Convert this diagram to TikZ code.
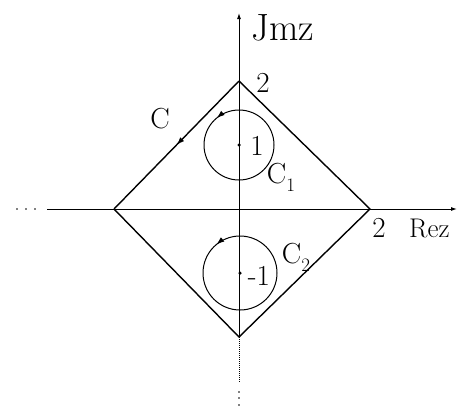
\documentclass[tikz,border=0pt]{standalone}
\usepackage{fontspec}
\usetikzlibrary{arrows.meta,decorations.markings}
\newcommand{\mysub}[1]{\raisebox{-0.28em}{\fontsize{19}{19}\selectfont #1}}
\begin{document}
\begin{tikzpicture}[x=1pt,y=-1pt,
  axis/.style={line width=1pt},
  edge/.style={line width=1.4pt},
  circ/.style={line width=1pt},
  lab/.style={inner sep=0pt,font=\fontsize{29}{29}\selectfont},
  dotmark/.style={circle,fill=black,inner sep=0pt,minimum size=1.6pt},
  midarrow/.style={postaction={decorate},decoration={markings,mark=at position #1 with {\arrow{Latex[length=8pt,width=5.5pt]}}}}]
\useasboundingbox (0,0) rectangle (457,407);
% key points
\coordinate (O) at (239,209);
\coordinate (T) at (239,81);
\coordinate (L) at (114,209);
\coordinate (R) at (370,209);
\coordinate (B) at (239,337);
\coordinate (yTop) at (239,13);
\coordinate (yBot) at (239,383);
\coordinate (xLeft) at (47,209);
\coordinate (xRight) at (457,209);
\coordinate (z1) at (239,145);
\coordinate (z2) at (240,273);
% axes
\draw[axis,-{Latex[length=6pt,width=4pt]}] (B) -- (yTop);
\draw[axis,densely dotted] (B) -- (yBot);
\foreach \y in {392,398,405} \node[dotmark] at (239,\y) {};
\draw[axis,-{Latex[length=6pt,width=4pt]}] (xLeft) -- (xRight);
\foreach \x in {17,26,35} \node[dotmark] at (\x,209) {};
% contour C
\draw[edge,midarrow=0.5] (T) -- (L);
\draw[edge] (L) -- (B) -- (R) -- (T);
% small circles (counterclockwise as seen)
\draw[circ,midarrow=0.36] (z1) ++(35,0) arc[start angle=0,end angle=-360,radius=35];
\draw[circ,midarrow=0.36] (z2) ++(37,0) arc[start angle=0,end angle=-360,radius=37];
\node[dotmark,minimum size=3.5pt] (p1) at (z1) {};
\node[dotmark,minimum size=3.5pt] (p2) at (z2) {};
% labels
\node[lab,anchor=west,font=\fontsize{38}{38}\selectfont] (im) at (251,28) {Jmz};
\node[lab] (two1) at (263,83) {2};
\node[lab] (cl) at (160,119) {C};
\node[lab] (one) at (257,146) {1};
\node[lab] (c1) at (281,177) {C\mysub{1}};
\node[lab] (two2) at (379,228) {2};
\node[lab,anchor=west,font=\fontsize{27}{27}\selectfont] (re) at (409,228) {Rez};
\node[lab] (c2) at (296,257) {C\mysub{2}};
\node[lab] (m1) at (259,276) {-1};
\end{tikzpicture}
\end{document}
